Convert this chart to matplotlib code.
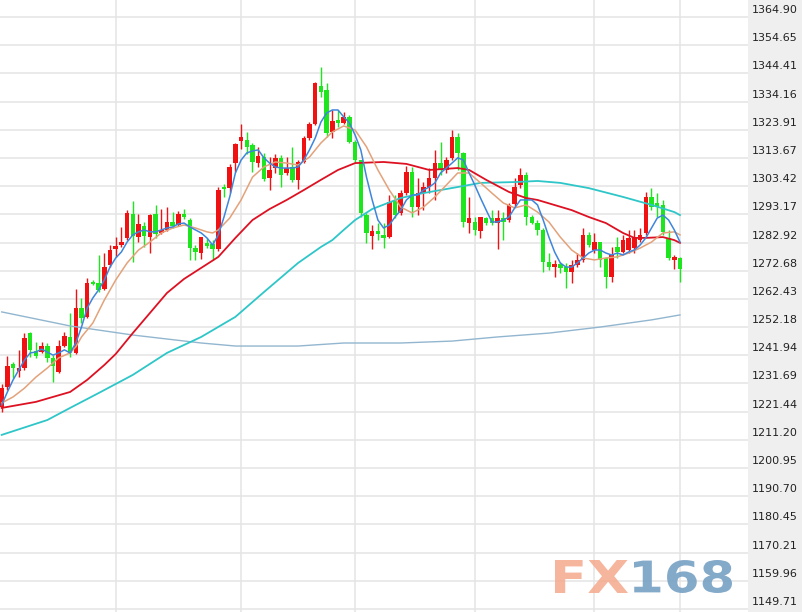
import matplotlib
matplotlib.use("Agg")
import matplotlib.pyplot as plt
import numpy as np
from matplotlib.textpath import TextPath
from matplotlib.patches import PathPatch
from matplotlib.font_manager import FontProperties
from matplotlib.transforms import Affine2D, IdentityTransform

# candles (open, high, low, close)
opens = [1223.1, 1230.4, 1238.8, 1236.2, 1237.3, 1250.0, 1243.5, 1243.1, 1245.3, 1241.0,
         1235.9, 1245.3, 1248.6, 1242.8, 1259.1, 1255.9, 1268.6, 1268.2, 1266.0, 1274.7,
         1280.6, 1282.0, 1284.6, 1293.3, 1284.9, 1288.9, 1284.9, 1293.3, 1286.4, 1287.5,
         1290.4, 1289.3, 1293.3, 1291.1, 1280.9, 1279.1, 1282.7, 1282.4, 1280.6, 1303.1,
         1302.7, 1311.8, 1319.8, 1320.2, 1318.4, 1311.8, 1314.0, 1306.4, 1310.0, 1313.7,
         1308.2, 1310.4, 1305.7, 1312.2, 1320.9, 1326.0, 1339.8, 1338.4, 1323.1, 1327.5,
         1326.4, 1328.5, 1319.5, 1312.9, 1292.9, 1285.3, 1287.1, 1285.7, 1284.9, 1298.0,
         1293.7, 1300.9, 1308.5, 1295.8, 1300.9, 1303.1, 1306.4, 1311.8, 1309.3, 1313.7,
         1321.3, 1315.5, 1290.0, 1290.4, 1287.1, 1291.8, 1291.8, 1290.0, 1291.8, 1291.1,
         1296.9, 1303.8, 1307.5, 1292.2, 1290.0, 1287.5, 1275.8, 1274.0, 1275.1, 1274.0,
         1272.2, 1274.7, 1276.6, 1285.7, 1280.2, 1283.1, 1277.3, 1270.4, 1281.3, 1279.5,
         1280.2, 1280.9, 1283.8, 1286.4, 1299.5, 1297.3, 1296.6, 1284.6, 1276.6, 1277.3]
highs = [1231.5, 1241.7, 1239.5, 1243.9, 1250.0, 1250.4, 1246.8, 1246.8, 1246.4, 1242.0,
         1247.5, 1250.4, 1257.3, 1266.0, 1262.8, 1270.0, 1269.3, 1278.4, 1279.1, 1282.0,
         1284.9, 1288.6, 1294.7, 1298.0, 1293.3, 1290.4, 1293.3, 1296.6, 1295.1, 1295.8,
         1294.0, 1294.4, 1295.1, 1291.8, 1282.0, 1284.9, 1284.6, 1283.8, 1303.1, 1304.2,
         1311.5, 1319.1, 1326.0, 1323.1, 1319.1, 1317.7, 1315.5, 1314.0, 1315.1, 1314.7,
         1314.0, 1317.7, 1312.9, 1321.6, 1326.7, 1341.3, 1346.7, 1340.9, 1331.1, 1331.1,
         1330.4, 1329.3, 1320.2, 1312.9, 1293.7, 1289.3, 1290.0, 1290.0, 1300.2, 1300.2,
         1302.0, 1310.7, 1310.4, 1306.4, 1304.9, 1310.0, 1316.6, 1319.5, 1314.0, 1323.8,
         1322.7, 1315.8, 1299.5, 1292.2, 1292.2, 1292.2, 1294.7, 1294.7, 1294.0, 1297.3,
         1306.4, 1310.0, 1308.6, 1292.9, 1291.1, 1288.2, 1279.1, 1276.6, 1275.8, 1275.5,
         1276.6, 1279.1, 1288.2, 1286.7, 1286.4, 1283.1, 1277.7, 1281.3, 1284.9, 1285.7,
         1287.5, 1287.5, 1288.2, 1301.3, 1302.7, 1300.9, 1298.4, 1287.5, 1278.4, 1277.7]
lows = [1221.3, 1229.3, 1233.7, 1234.0, 1236.6, 1241.3, 1241.0, 1242.8, 1239.5, 1232.2,
        1235.5, 1245.0, 1241.3, 1242.4, 1253.7, 1255.5, 1267.5, 1264.9, 1265.7, 1274.0,
        1277.7, 1281.3, 1283.8, 1275.8, 1283.1, 1281.3, 1279.1, 1284.6, 1286.0, 1287.1,
        1288.2, 1288.9, 1291.5, 1276.6, 1276.6, 1276.9, 1280.9, 1276.6, 1279.8, 1299.5,
        1300.9, 1308.5, 1316.9, 1315.1, 1308.5, 1310.4, 1305.3, 1302.0, 1308.2, 1303.1,
        1307.5, 1304.9, 1302.4, 1311.8, 1320.2, 1325.6, 1335.8, 1321.3, 1320.9, 1324.9,
        1326.0, 1319.1, 1311.8, 1292.2, 1282.7, 1280.6, 1283.8, 1280.9, 1284.6, 1291.8,
        1292.9, 1300.2, 1292.2, 1292.9, 1294.7, 1300.9, 1298.4, 1307.5, 1308.2, 1312.9,
        1309.3, 1288.6, 1286.4, 1285.7, 1284.6, 1289.3, 1289.3, 1280.6, 1283.8, 1290.4,
        1295.8, 1302.7, 1289.3, 1289.7, 1285.7, 1272.2, 1272.9, 1270.4, 1271.8, 1266.4,
        1268.2, 1274.0, 1275.8, 1281.3, 1279.1, 1274.0, 1266.4, 1268.6, 1277.3, 1279.1,
        1279.1, 1279.1, 1283.1, 1285.7, 1294.7, 1292.2, 1285.7, 1276.6, 1273.3, 1268.6]
closes = [1230.0, 1238.0, 1237.3, 1237.3, 1248.2, 1243.9, 1241.7, 1245.3, 1241.0, 1238.0,
          1245.3, 1248.9, 1242.8, 1259.1, 1255.5, 1268.2, 1267.9, 1265.7, 1274.0, 1280.2,
          1281.7, 1283.1, 1293.7, 1285.3, 1289.7, 1285.3, 1292.9, 1286.0, 1287.5, 1290.4,
          1288.9, 1293.3, 1292.2, 1280.9, 1279.5, 1284.9, 1281.7, 1280.6, 1302.0, 1302.4,
          1310.4, 1318.7, 1321.3, 1317.7, 1312.2, 1314.4, 1306.0, 1309.3, 1313.7, 1307.5,
          1310.0, 1305.7, 1312.2, 1320.9, 1326.0, 1340.9, 1337.6, 1322.7, 1327.1, 1326.4,
          1328.5, 1319.5, 1312.9, 1293.7, 1286.4, 1287.1, 1286.0, 1284.6, 1297.7, 1292.9,
          1300.9, 1308.5, 1295.8, 1300.9, 1303.1, 1306.4, 1311.8, 1309.3, 1312.9, 1321.3,
          1315.5, 1290.4, 1291.8, 1287.5, 1292.2, 1290.0, 1290.0, 1291.8, 1290.4, 1296.6,
          1303.1, 1307.5, 1292.2, 1290.0, 1287.5, 1275.8, 1274.0, 1275.1, 1273.7, 1272.2,
          1274.7, 1276.6, 1285.7, 1282.0, 1283.1, 1276.6, 1270.4, 1278.4, 1279.5, 1283.8,
          1284.6, 1284.9, 1285.7, 1299.5, 1295.8, 1295.8, 1286.7, 1277.3, 1277.7, 1273.3]

# moving average lines (candle index, price)
ma5 = [1223.9, 1228.6, 1233.0, 1236.6, 1240.2, 1242.8, 1243.1, 1244.2, 1243.1, 1242.0,
       1242.8, 1243.9, 1242.8, 1246.4, 1252.2, 1259.1, 1262.8, 1265.7, 1269.3, 1274.0,
       1277.3, 1279.5, 1283.1, 1285.7, 1286.8, 1287.5, 1286.8, 1286.8, 1287.5, 1288.2,
       1288.6, 1289.7, 1290.0, 1288.6, 1287.5, 1286.4, 1284.6, 1282.0, 1285.7, 1292.2,
       1299.5, 1308.2, 1312.9, 1315.5, 1316.2, 1316.6, 1313.7, 1311.8, 1310.4, 1310.0,
       1310.0, 1310.0, 1310.4, 1312.9, 1316.6, 1320.9, 1326.7, 1330.0, 1331.1, 1331.1,
       1328.6, 1326.4, 1322.0, 1316.6, 1306.7, 1298.4, 1291.1, 1288.2, 1289.3, 1292.2,
       1294.7, 1298.4, 1300.2, 1300.2, 1302.0, 1303.1, 1304.6, 1308.2, 1310.0, 1311.8,
       1313.7, 1312.9, 1308.2, 1303.8, 1299.1, 1294.7, 1290.4, 1290.4, 1291.1, 1292.2,
       1295.5, 1298.4, 1298.4, 1298.4, 1296.6, 1291.1, 1284.9, 1279.5, 1275.5, 1274.0,
       1274.0, 1275.5, 1277.3, 1279.1, 1280.2, 1280.2, 1279.1, 1278.4, 1279.1, 1278.4,
       1279.5, 1280.2, 1282.0, 1284.6, 1288.2, 1291.8, 1292.9, 1291.1, 1287.5, 1283.1]

ma10_x = [0, 2, 4, 6, 8, 10, 12, 13, 14, 16, 18, 20, 22, 24, 26, 28, 30, 32, 34, 36,
          37, 38, 40, 42, 44, 46, 48, 50, 52, 54, 56, 58, 60, 62, 64, 66, 68, 70, 72, 74,
          76, 78, 80, 82, 84, 86, 88, 90, 92, 94, 96, 98, 100, 102, 104, 106, 108, 110,
          112, 114, 116, 118, 119]
ma10 = [1224.6, 1226.8, 1230.0, 1234.0, 1237.3, 1241.0, 1242.8, 1245.0, 1248.6, 1253.7,
        1262.0, 1269.3, 1275.5, 1280.2, 1283.1, 1286.4, 1288.2, 1289.3, 1288.2, 1286.8,
        1286.4, 1287.5, 1291.8, 1298.4, 1306.7, 1310.4, 1312.2, 1311.8, 1311.1, 1314.0,
        1319.1, 1323.1, 1325.3, 1323.8, 1317.7, 1309.3, 1302.0, 1295.8, 1293.7, 1295.8,
        1299.5, 1303.8, 1308.2, 1308.2, 1304.6, 1300.9, 1297.3, 1295.5, 1296.6, 1294.0,
        1290.4, 1284.9, 1280.2, 1277.3, 1276.6, 1277.3, 1277.7, 1279.1, 1280.9, 1283.1,
        1286.4, 1286.8, 1285.7]

ma20_x = [0, 6, 12, 15, 18, 20, 23, 26, 29, 32, 35, 38, 41, 44, 47, 50, 53, 56, 59, 62,
          67, 71, 75, 80, 82, 85, 89, 92, 94, 100, 103, 106, 109, 111, 113, 116, 118, 119]
ma20 = [1222.8, 1225.0, 1228.6, 1233.0, 1238.4, 1242.4, 1250.0, 1257.3, 1264.6, 1269.7,
        1273.7, 1277.7, 1284.6, 1291.1, 1295.1, 1298.4, 1302.0, 1305.7, 1309.3, 1311.8,
        1312.2, 1311.5, 1309.3, 1310.0, 1309.3, 1305.7, 1301.3, 1299.1, 1298.4, 1294.7,
        1292.2, 1290.0, 1286.4, 1284.6, 1284.6, 1284.9, 1283.8, 1282.8]

ma60_x = [0, 8, 12, 17, 23, 29, 35, 41, 46, 52, 56, 58, 60, 62, 65, 70, 74, 80, 84, 90,
          94, 98, 103, 109, 114, 118, 119]
ma60 = [1213.0, 1218.4, 1222.8, 1228.2, 1234.8, 1242.8, 1248.6, 1255.9, 1264.9, 1275.5,
        1281.3, 1283.8, 1287.5, 1291.1, 1295.1, 1299.1, 1300.9, 1303.1, 1304.6, 1304.9,
        1305.3, 1304.6, 1302.7, 1299.5, 1296.6, 1294.0, 1292.9]

ma120_x = [0, 12, 23, 35, 41, 52, 60, 70, 79, 87, 96, 105, 114, 119]
ma120 = [1257.7, 1252.6, 1249.3, 1246.4, 1245.3, 1245.3, 1246.4, 1246.4, 1247.1, 1248.6,
         1250.0, 1252.2, 1254.8, 1256.6]

ytick_labels = ["1364.90", "1354.65", "1344.41", "1334.16", "1323.91", "1313.67",
                "1303.42", "1293.17", "1282.92", "1272.68", "1262.43", "1252.18",
                "1241.94", "1231.69", "1221.44", "1211.20", "1200.95", "1190.70",
                "1180.45", "1170.21", "1159.96", "1149.71"]
vgrid_idx = [20, 42, 62, 83, 104, 119]

W, H = 803, 612
fig = plt.figure(figsize=(W / 100, H / 100), dpi=100)
fig.patch.set_facecolor("white")

plot_w = 748
ax = fig.add_axes([0, 0, plot_w / W, 1])
step = 5.7
x0 = 1.7
ax.set_xlim(-x0 / step, (plot_w - x0) / step)
ax.set_ylim(1148.62, 1371.08)
for s in ax.spines.values():
    s.set_visible(False)
ax.set_xticks([])
ax.set_yticks([])

yvals = [float(t) for t in ytick_labels]
for v in yvals:
    ax.axhline(v, color="#e4e4e4", lw=1.1, zorder=0)
for i in vgrid_idx:
    ax.axvline(i, color="#e4e4e4", lw=1.1, zorder=0)

o = np.array(opens)
h = np.array(highs)
l = np.array(lows)
c = np.array(closes)
idx = np.arange(len(o))
up = c >= o
cols = np.where(up, "#f01212", "#1ee61e")
ax.vlines(idx, l, h, colors=cols, lw=1.0, zorder=2)
body = np.maximum(np.abs(c - o), 0.45)
ax.bar(idx, body, bottom=np.minimum(o, c), width=0.8, color=cols, lw=0, zorder=3)

ax.plot(ma120_x, ma120, color="#92b6cf", lw=1.0, zorder=4)
ax.plot(ma60_x, ma60, color="#2ec6c8", lw=1.3, zorder=4)
ax.plot(ma20_x, ma20, color="#dd1122", lw=1.3, zorder=4)
ax.plot(ma10_x, ma10, color="#e3a27a", lw=1.1, zorder=4)
ax.plot(idx, ma5, color="#3d86dc", lw=1.1, zorder=5)

# price scale panel on the right
ax2 = fig.add_axes([plot_w / W, 0, (W - plot_w) / W, 1], facecolor="#efefef")
ax2.set_xlim(0, 1)
ax2.set_ylim(ax.get_ylim())
for s in ax2.spines.values():
    s.set_visible(False)
ax2.set_xticks([])
ax2.set_yticks([])
for v, t in zip(yvals, ytick_labels):
    ax2.text(0.07, v + 1.45, t, fontsize=8, color="#222222", va="baseline", ha="left")


# watermark, stretched to the box it fills in the original
def stamp(text, left, right, bottom, top, color):
    tp = TextPath((0, 0), text, size=40,
                  prop=FontProperties(family="DejaVu Sans", weight="bold"))
    ext = tp.get_extents()
    sx = (right - left) / ext.width
    sy = (top - bottom) / ext.height
    tr = Affine2D().translate(-ext.x0, -ext.y0).scale(sx, sy).translate(left, H - top)
    fig.patches.append(PathPatch(tr.transform_path(tp), transform=IdentityTransform(),
                                 facecolor=color, edgecolor="none", alpha=0.9,
                                 figure=fig, zorder=10))


stamp("FX", 555, 628, 560, 593, "#f5ad93")
stamp("168", 634, 732, 560, 593, "#77a1c4")

fig.savefig("out.png", dpi=100)
